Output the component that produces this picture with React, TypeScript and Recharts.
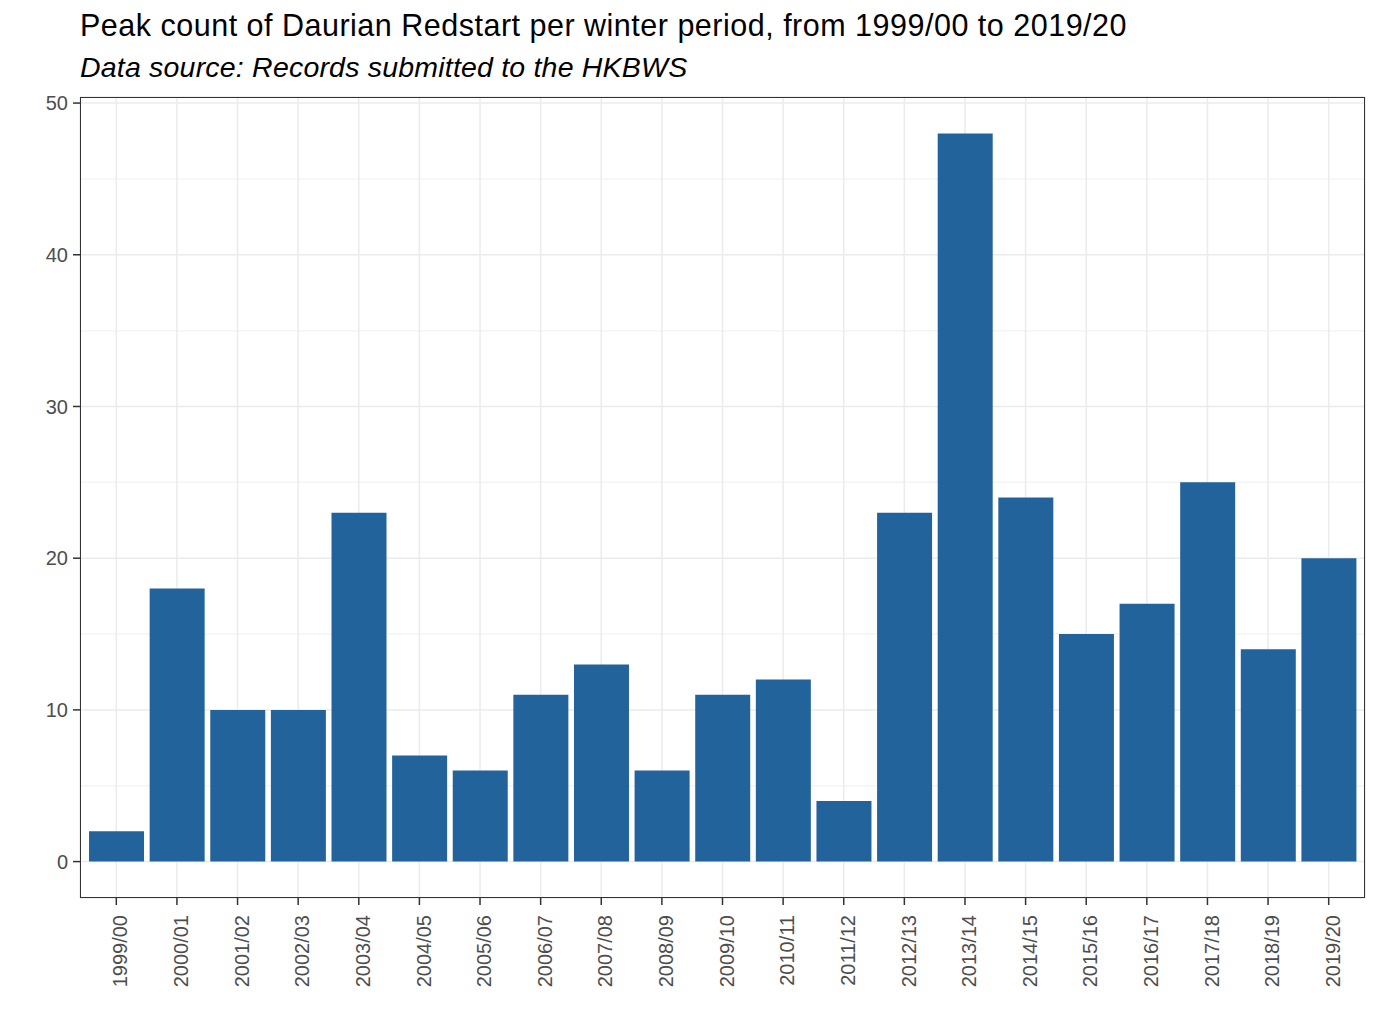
import React from 'react';
import { BarChart, Bar, XAxis, YAxis, CartesianGrid } from 'recharts';

const seasons = [
  '1999/00', '2000/01', '2001/02', '2002/03', '2003/04', '2004/05', '2005/06',
  '2006/07', '2007/08', '2008/09', '2009/10', '2010/11', '2011/12', '2012/13',
  '2013/14', '2014/15', '2015/16', '2016/17', '2017/18', '2018/19', '2019/20',
];
const peakCounts = [2, 18, 10, 10, 23, 7, 6, 11, 13, 6, 11, 12, 4, 23, 48, 24, 15, 17, 25, 14, 20];
const yTicks = [0, 10, 20, 30, 40, 50];
const yMinor = [5, 15, 25, 35, 45];
const yDomain = [-2.4, 50.4];

const data = seasons.map((season, i) => ({ season, count: peakCounts[i] }));

const FONT = '"Liberation Sans", Arial, sans-serif';

const App = () => {
  // minor gridlines, placed with the same linear mapping as the y axis
  const minorLines = (props: any) => {
    const off = props.offset || {};
    const top = off.top ?? 97;
    const h = off.height ?? 801;
    return yMinor.map((v) => top + ((yDomain[1] - v) / (yDomain[1] - yDomain[0])) * h);
  };

  return (
    <div style={{ position: 'absolute', left: 0, top: 0, width: 1379, height: 1034, background: '#fff', fontFamily: FONT }}>
      <div style={{ position: 'absolute', left: 80, top: 8, fontSize: 30.5, letterSpacing: 0.5, color: '#000', whiteSpace: 'nowrap' }}>
        Peak count of Daurian Redstart per winter period, from 1999/00 to 2019/20
      </div>
      <div style={{ position: 'absolute', left: 80, top: 51, fontSize: 28.5, letterSpacing: 0.2, fontStyle: 'italic', color: '#000', whiteSpace: 'nowrap' }}>
        Data source: Records submitted to the HKBWS
      </div>
      <BarChart
        width={1379}
        height={1034}
        data={data}
        margin={{ top: 97, right: 14, bottom: 30, left: 30 }}
        barCategoryGap="5%"
      >
        <CartesianGrid vertical={false} horizontalCoordinatesGenerator={minorLines} stroke="#F4F4F4" strokeWidth={1.5} />
        <CartesianGrid stroke="#EBEBEB" strokeWidth={1.5} />
        <XAxis
          dataKey="season"
          padding={{ left: 6, right: 6 }}
          height={106}
          interval={0}
          axisLine={false}
          tickLine={{ stroke: '#333', strokeWidth: 1.5 }}
          tickSize={7}
          tick={{ fill: '#4D4D4D', fontSize: 20, fontFamily: FONT, angle: -90, textAnchor: 'end', dx: -3, dy: 8 } as any}
        />
        <YAxis
          type="number"
          domain={yDomain}
          ticks={yTicks}
          width={50}
          axisLine={false}
          tickLine={{ stroke: '#333', strokeWidth: 1.5 }}
          tickSize={7}
          tickMargin={5}
          tick={{ fill: '#4D4D4D', fontSize: 20, fontFamily: FONT }}
        />
        <Bar dataKey="count" fill="#22639B" isAnimationActive={false} />
      </BarChart>
      <div
        style={{
          position: 'absolute',
          left: 80,
          top: 97,
          width: 1285,
          height: 801,
          boxSizing: 'border-box',
          border: '1.5px solid #333',
          pointerEvents: 'none',
        }}
      />
    </div>
  );
};

export default App;
